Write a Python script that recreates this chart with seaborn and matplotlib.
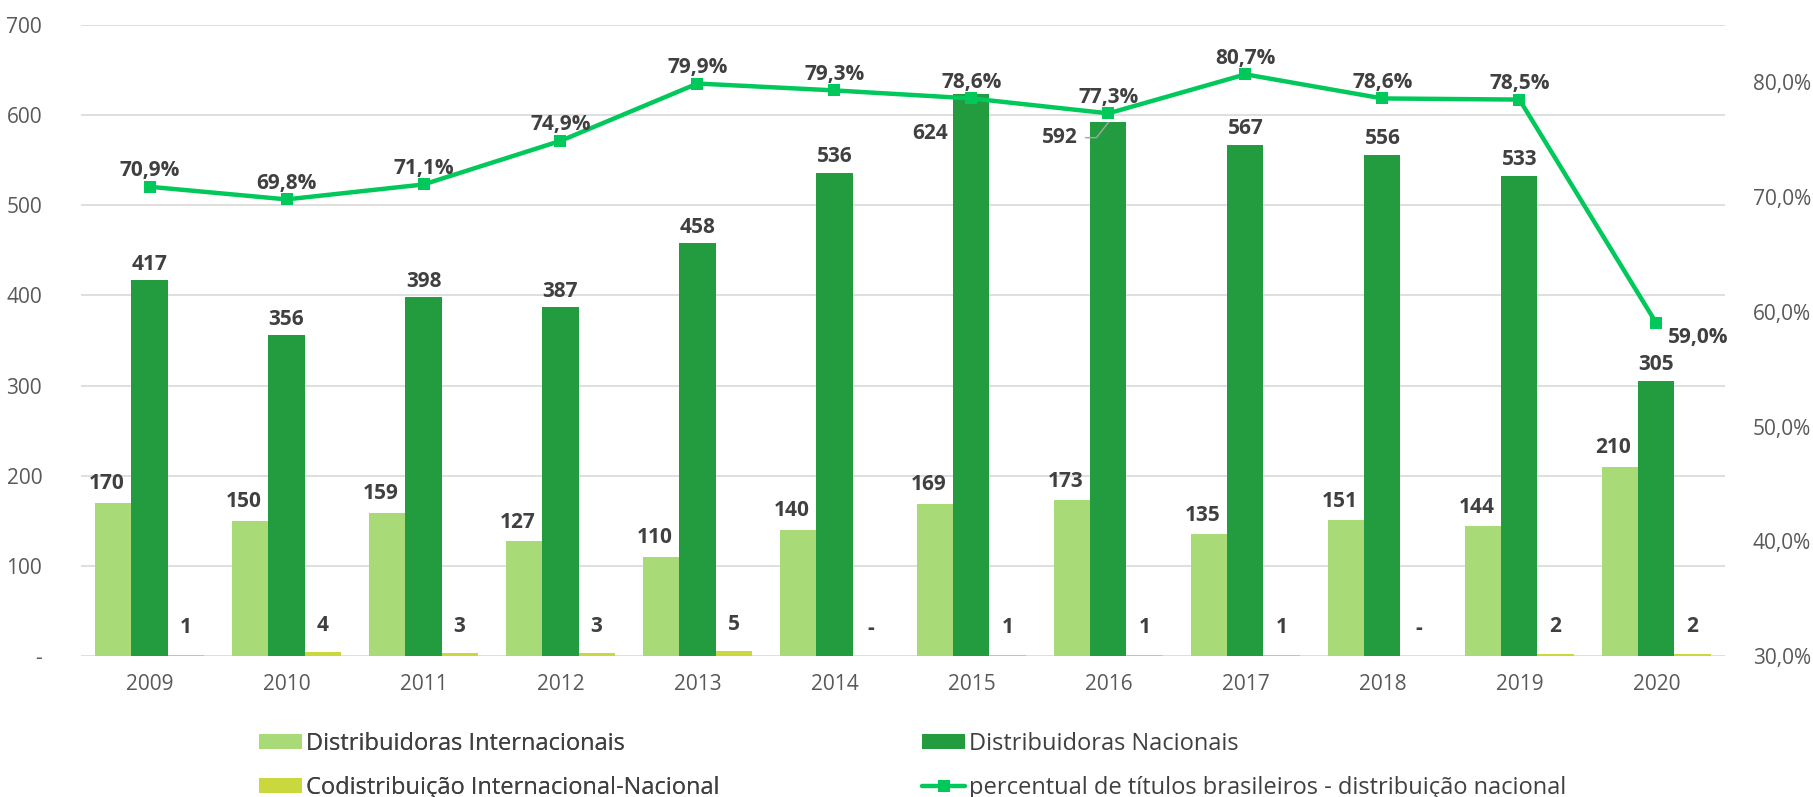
import matplotlib
matplotlib.use("Agg")
import matplotlib.pyplot as plt
import numpy as np
import pandas as pd
import seaborn as sns
from matplotlib.lines import Line2D
from matplotlib.patches import Patch

# Dados
anos = ["2009", "2010", "2011", "2012", "2013", "2014", "2015", "2016", "2017", "2018", "2019", "2020"]
internacionais = [170, 150, 159, 127, 110, 140, 169, 173, 135, 151, 144, 210]
nacionais = [417, 356, 398, 387, 458, 536, 624, 592, 567, 556, 533, 305]
codistribuicao = [1, 4, 3, 3, 5, 0, 1, 1, 1, 0, 2, 2]
percentual = [70.9, 69.8, 71.1, 74.9, 79.9, 79.3, 78.6, 77.3, 80.7, 78.6, 78.5, 59.0]

series = ["Distribuidoras Internacionais", "Distribuidoras Nacionais", "Codistribuição Internacional-Nacional"]
nome_linha = "percentual de títulos brasileiros - distribuição nacional"
cores = ["#A9DA78", "#239C40", "#C9D83C"]
cor_linha = "#00C85A"
cor_texto = "#404040"
cor_tick = "#595959"


def fmt_num(v):
    return "-" if v == 0 else f"{v:d}"


def fmt_pct(v):
    return f"{v:.1f}%".replace(".", ",")


def main():
    sns.set_theme(style="white")
    plt.rcParams["font.family"] = ["Open Sans", "DejaVu Sans"]

    df = pd.DataFrame({
        "ano": anos * 3,
        "serie": [series[0]] * len(anos) + [series[1]] * len(anos) + [series[2]] * len(anos),
        "valor": internacionais + nacionais + codistribuicao,
    })

    fig = plt.figure(figsize=(18.13, 7.97), dpi=100)
    ax = fig.add_axes([0.0447, 0.177, 0.9067, 0.7916])

    sns.barplot(data=df, x="ano", y="valor", hue="serie", hue_order=series,
                palette=cores, saturation=1, width=0.79, ax=ax, legend=False,
                errorbar=None, linewidth=0)

    xlim = (-0.5, len(anos) - 0.5)
    ax.set_xlim(xlim)
    ax.set_ylim(0, 700)
    ax.set_yticks(range(0, 701, 100))
    ax.set_yticklabels(["-"] + [str(v) for v in range(100, 701, 100)])
    ax.grid(axis="y", color="#D9D9D9", linewidth=1.2)
    ax.set_axisbelow(True)
    for s in ax.spines.values():
        s.set_visible(False)
    ax.tick_params(axis="both", length=0, labelsize=15, colors=cor_tick)
    ax.tick_params(axis="x", pad=13)
    ax.tick_params(axis="y", pad=28)
    ax.set_xlabel("")
    ax.set_ylabel("")

    # rótulos das barras
    pads = [6, 4, 12]
    for k, cont in enumerate(ax.containers):
        vals = [internacionais, nacionais, codistribuicao][k]
        for i, rect in enumerate(cont.patches):
            x = rect.get_x() + rect.get_width() / 2
            y = rect.get_height()
            txt = fmt_num(vals[i])
            kw = dict(fontsize=15, fontweight="bold", color=cor_texto)
            if k == 1 and anos[i] == "2015":
                ax.annotate(txt, (x, y), xytext=(-17, -29), textcoords="offset points",
                            ha="right", va="center", **kw)
            elif k == 1 and anos[i] == "2016":
                ax.annotate(txt, (x, y), xytext=(-22, -11), textcoords="offset points",
                            ha="right", va="center", **kw,
                            arrowprops=dict(arrowstyle="-", color="#A6A6A6", lw=1,
                                            connectionstyle="angle,angleA=0,angleB=52,rad=0",
                                            shrinkA=3, shrinkB=0))
            else:
                dx = -5 if k == 0 else 0
                ax.annotate(txt, (x, y), xytext=(dx, pads[k]), textcoords="offset points",
                            ha="center", va="bottom", **kw)

    # linha percentual
    ax2 = ax.twinx()
    pos = np.arange(len(anos))
    sns.lineplot(x=pos, y=percentual, ax=ax2, color=cor_linha, linewidth=3.2,
                 marker="s", markersize=9, markeredgewidth=0, markerfacecolor=cor_linha)
    ax2.set_xlim(xlim)
    ax.set_xlim(xlim)
    ax2.set_ylim(30, 85)
    ax2.set_yticks(range(30, 81, 10))
    ax2.set_yticklabels([fmt_pct(v) for v in range(30, 81, 10)])
    for s in ax2.spines.values():
        s.set_visible(False)
    ax2.tick_params(axis="y", length=0, labelsize=15, colors=cor_tick, pad=20)
    ax2.grid(False)
    ax2.set_ylabel("")

    for i, v in enumerate(percentual):
        if i == len(percentual) - 1:
            ax2.annotate(fmt_pct(v), (pos[i], v), xytext=(8, -10), textcoords="offset points",
                         ha="left", va="center", fontsize=15, fontweight="bold", color=cor_texto)
        else:
            ax2.annotate(fmt_pct(v), (pos[i], v), xytext=(0, 4), textcoords="offset points",
                         ha="center", va="bottom", fontsize=15, fontweight="bold", color=cor_texto)

    # legenda em duas colunas
    h_intl = Patch(facecolor=cores[0], edgecolor="none")
    h_nac = Patch(facecolor=cores[1], edgecolor="none")
    h_cod = Patch(facecolor=cores[2], edgecolor="none")
    h_lin = Line2D([], [], color=cor_linha, linewidth=3.2, marker="s", markersize=9,
                   markeredgewidth=0)
    leg_kw = dict(loc="upper left", frameon=False, fontsize=17, borderpad=0,
                  handlelength=1.85, handleheight=0.6, handletextpad=0.15, labelspacing=0.85,
                  labelcolor=cor_texto)
    leg1 = fig.legend([h_intl, h_cod], [series[0], series[2]],
                      bbox_to_anchor=(247 / 1813, 1 - 720 / 797), **leg_kw)
    fig.legend([h_nac, h_lin], [series[1], nome_linha],
               bbox_to_anchor=(910 / 1813, 1 - 720 / 797), **leg_kw)
    fig.add_artist(leg1)

    fig.savefig("out.png", dpi=100)


if __name__ == "__main__":
    main()
